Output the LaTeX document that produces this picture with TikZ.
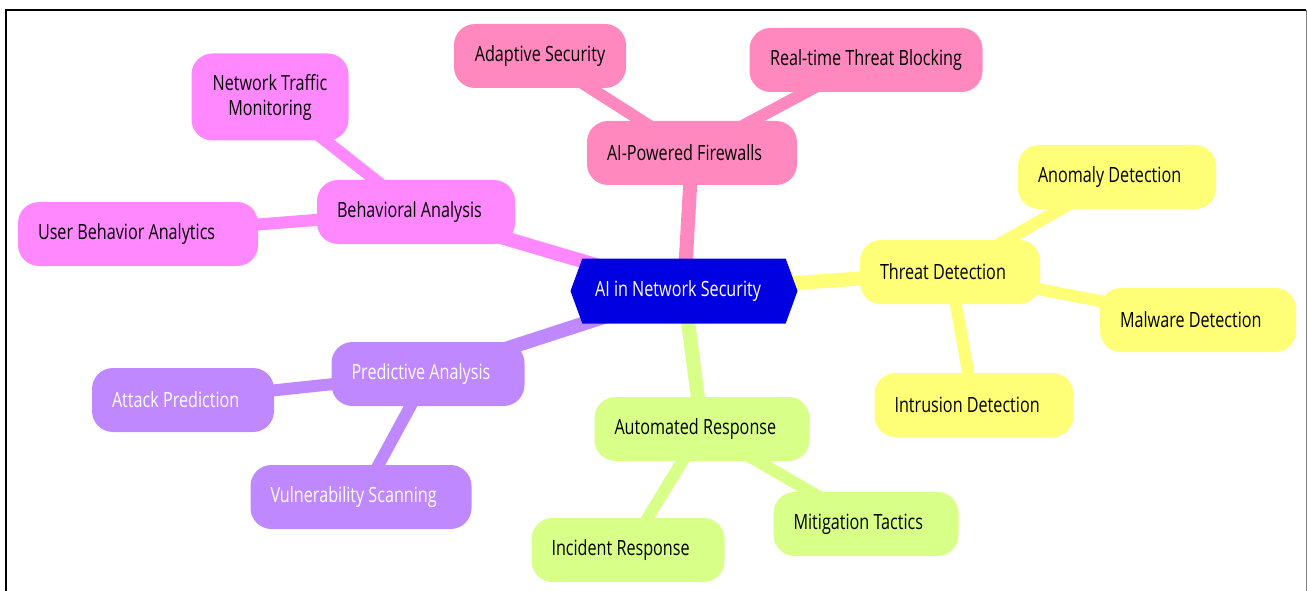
\documentclass[tikz,border=0pt]{standalone}
\usepackage{fontspec}
\setmainfont{Open Sans}[FakeStretch=0.77]
\usetikzlibrary{shapes.symbols, backgrounds}
\definecolor{hubblue}{HTML}{0000E0}
\definecolor{firepink}{HTML}{FF88BE}
\definecolor{behavmag}{HTML}{FF88FF}
\definecolor{predpurple}{HTML}{C088FF}
\definecolor{autogreen}{HTML}{D8FF88}
\definecolor{threatyellow}{HTML}{FFFF77}
\tikzset{
	hub/.style   = {shape=signal, signal to=west and east, signal pointer angle=140,
		fill=hubblue, text=white, minimum width=227, minimum height=65, inner sep=0pt},
	topic/.style = {shape=rectangle, rounded corners=21, minimum height=64,
		inner xsep=20, align=flush left},
	wide/.style  = {topic, inner xsep=0pt, align=center},
	trunk/.style = {line width=14},
	twig/.style  = {line width=12},
}

\begin{document}
\begin{tikzpicture}
	[
	x = 1pt, y = -1pt,
	every node/.style = {font=\fontsize{21}{25}\selectfont},
	]
	\useasboundingbox (0,0) rectangle (1307,591);
	\draw[line width=2.5] (6,591) -- (6,10) -- (1306,10);
	\draw[gray, line width=1] (1306,10) -- (1306,591);
	
	\node[hub] (core) at (684,291) {AI in Network Security\hspace*{12pt}};
	
	% firewalls
	\node[topic, fill=firepink, text width=170] (fire) at (692,153) {AI-Powered Firewalls};
	\node[wide, fill=firepink, minimum width=172] (adapt) at (540,56) {Adaptive Security};
	\node[wide, fill=firepink, minimum width=233] (block) at (866,60) {Real-time Threat Blocking};
	
	% behaviour
	\node[topic, fill=behavmag, text width=158] (behav) at (416,212) {Behavioral Analysis};
	\node[wide, fill=behavmag, minimum width=157, minimum height=87] (traffic) at (270,97) {Network Traffic\\Monitoring};
	\node[topic, fill=behavmag, text width=200] (users) at (138,234) {User Behavior Analytics};
	
	% prediction
	\node[topic, fill=predpurple, text=white, text width=153] (pred) at (428,374) {Predictive Analysis};
	\node[topic, fill=predpurple, text=white, text width=142] (attack) at (183,400) {Attack Prediction};
	\node[topic, fill=predpurple, text=white, text width=181] (vuln) at (361,497) {Vulnerability Scanning};
	
	% response
	\node[topic, fill=autogreen, text width=175] (resp) at (702,429) {Automated Response};
	\node[topic, fill=autogreen, text width=153] (incid) at (628,550) {Incident Response};
	\node[topic, fill=autogreen, text width=145] (mitig) at (866,524) {Mitigation Tactics};
	
	% detection
	\node[topic, fill=threatyellow, text width=140] (threat) at (950,272) {Threat Detection};
	\node[topic, fill=threatyellow, text width=158] (anom) at (1117,177) {Anomaly Detection};
	\node[topic, fill=threatyellow, text width=156] (malw) at (1198,320) {Malware Detection};
	\node[topic, fill=threatyellow, text width=159] (intr) at (974,405) {Intrusion Detection};
	
	\begin{scope}[on background layer]
		\draw[trunk, firepink] (core.center) -- (fire.center);
		\draw[trunk, behavmag] (core.center) -- (behav.center);
		\draw[trunk, predpurple] (core.center) -- (pred.center);
		\draw[trunk, autogreen] (core.center) -- (resp.center);
		\draw[trunk, threatyellow] (core.center) -- (threat.center);
		\draw[twig, firepink] (fire.center) -- (adapt.center);
		\draw[twig, firepink] (fire.center) -- (block.center);
		\draw[twig, behavmag] (behav.center) -- (traffic.center);
		\draw[twig, behavmag] (behav.center) -- (users.center);
		\draw[twig, predpurple] (pred.center) -- (attack.center);
		\draw[twig, predpurple] (pred.center) -- (vuln.center);
		\draw[twig, autogreen] (resp.center) -- (incid.center);
		\draw[twig, autogreen] (resp.center) -- (mitig.center);
		\draw[twig, threatyellow] (threat.center) -- (anom.center);
		\draw[twig, threatyellow] (threat.center) -- (malw.center);
		\draw[twig, threatyellow] (threat.center) -- (intr.center);
	\end{scope}
\end{tikzpicture}
\end{document}
